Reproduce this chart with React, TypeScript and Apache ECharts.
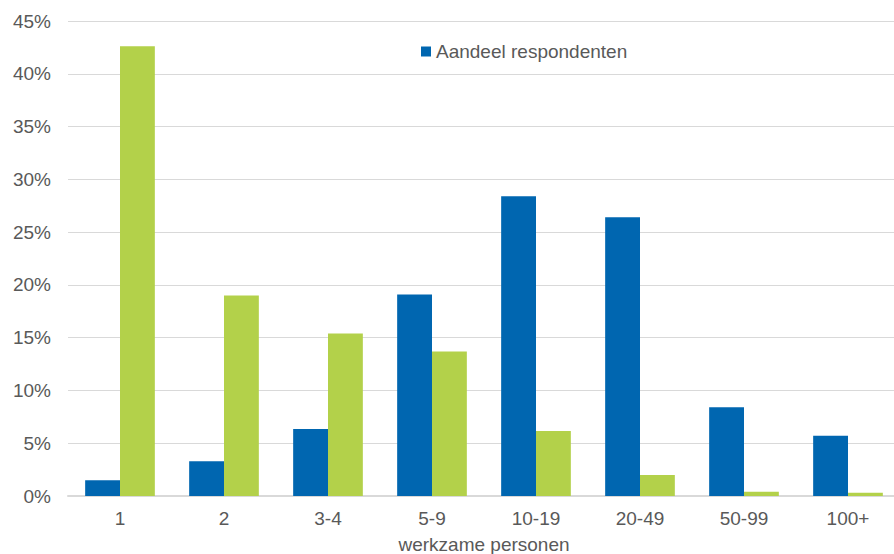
import React, { useEffect, useRef } from "react";
import * as echarts from "echarts";

const categories = ["1", "2", "3-4", "5-9", "10-19", "20-49", "50-99", "100+"];
const respondenten = [1.5, 3.3, 6.35, 19.1, 28.4, 26.4, 8.4, 5.7];
const bedrijven = [42.6, 19.0, 15.4, 13.7, 6.15, 2.0, 0.4, 0.3];
const yTicks = { min: 0, max: 45, interval: 5 };

export default function App() {
  const ref = useRef<HTMLDivElement>(null);
  useEffect(() => {
    document.body.style.margin = "0";
    const chart = echarts.init(ref.current!, null, { renderer: "svg" });
    const font = "'Liberation Sans', Arial, sans-serif";
    chart.setOption({
      animation: false,
      textStyle: { fontFamily: font },
      legend: {
        data: ["Aandeel respondenten"],
        left: 416,
        top: 37,
        itemWidth: 10,
        itemHeight: 10,
        itemGap: 5,
        icon: "rect",
        textStyle: { fontSize: 19, color: "#595959", fontFamily: font },
      },
      grid: {
        left: 68,
        right: -6,
        top: 21,
        bottom: 58,
        containLabel: false,
        outerBoundsMode: "none",
      },
      xAxis: {
        type: "category",
        data: categories,
        name: "werkzame personen",
        nameLocation: "middle",
        nameGap: 39,
        nameTextStyle: { fontSize: 19, color: "#595959", fontFamily: font },
        axisTick: { show: false },
        axisLine: { lineStyle: { color: "#d9d9d9", width: 2 } },
        axisLabel: { fontSize: 19, color: "#595959", margin: 13, fontFamily: font },
      },
      yAxis: {
        type: "value",
        min: yTicks.min,
        max: yTicks.max,
        interval: yTicks.interval,
        axisLine: { show: false },
        axisTick: { show: false },
        splitLine: { lineStyle: { color: "#d9d9d9", width: 1 } },
        axisLabel: {
          fontSize: 19,
          color: "#595959",
          margin: 17,
          fontFamily: font,
          formatter: (v: number) => v + "%",
        },
      },
      series: [
        {
          name: "Aandeel respondenten",
          type: "bar",
          data: respondenten,
          itemStyle: { color: "#0066B0" },
          barGap: "0%",
          barCategoryGap: "33%",
        },
        {
          name: "Aandeel bedrijven",
          type: "bar",
          data: bedrijven,
          itemStyle: { color: "#B3D14A" },
          barGap: "0%",
          barCategoryGap: "33%",
        },
      ],
    });
    return () => chart.dispose();
  }, []);
  return <div ref={ref} style={{ width: 894, height: 554 }} />;
}
